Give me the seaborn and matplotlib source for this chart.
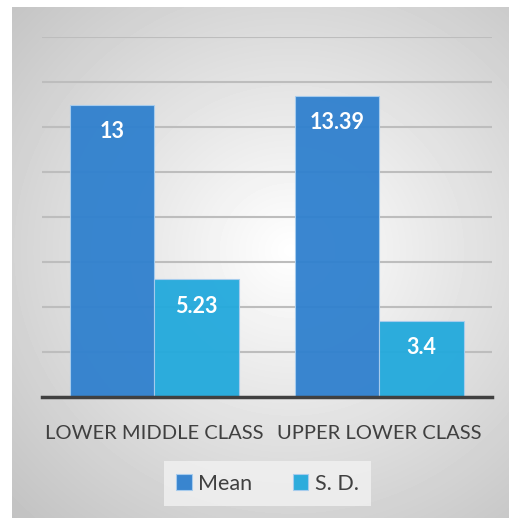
import numpy as np
import pandas as pd
import matplotlib
matplotlib.use('Agg')
import matplotlib.pyplot as plt
import seaborn as sns

# data
classes = ['LOWER MIDDLE CLASS', 'UPPER LOWER CLASS']
stats = ['Mean', 'S. D.']
mean_vals = [13, 13.39]
sd_vals = [5.23, 3.4]
colors = ['#2F80CE', '#22A9DC']

df = pd.DataFrame({
    'cls': classes * 2,
    'stat': [stats[0]] * 2 + [stats[1]] * 2,
    'value': mean_vals + sd_vals,
})

sns.set_style('white')
plt.rcParams['font.family'] = ['Lato', 'DejaVu Sans']

W, H = 510, 518
fig = plt.figure(figsize=(W / 100, H / 100), dpi=100)
fig.patch.set_facecolor('white')

# gray radial background of the chart area
bg = fig.add_axes([12 / W, 0, (W - 12) / W, (H - 7) / H], zorder=-10)
yy, xx = np.mgrid[7:H, 12:W]
r = np.hypot(xx - 290, (yy - 250) * 1.05)
shade = 1 - 0.24 * (r / r.max()) ** 1.0
bg.imshow(shade, cmap='gray', vmin=0, vmax=1, aspect='auto',
          extent=[0, 1, 0, 1], interpolation='bilinear')
bg.axis('off')

ax = fig.add_axes([42 / W, (H - 397) / H, 450 / W, 360 / H])
ax.patch.set_alpha(0)

sns.barplot(data=df, x='cls', y='value', hue='stat', palette=colors,
            saturation=1, width=0.75, ax=ax, alpha=0.95,
            edgecolor='#a8cdee', linewidth=0.8, errorbar=None, zorder=2)

ax.set_ylim(0, 16)
ax.set_xlim(-0.5, 1.5)
ax.set_yticks(np.arange(2, 17, 2))
ax.yaxis.grid(True, color='#bdbdbd', linewidth=1.5, zorder=1)
ax.set_axisbelow(True)
ax.set_yticklabels([])
ax.set_xlabel('')
ax.set_ylabel('')
for s in ['left', 'right', 'top']:
    ax.spines[s].set_visible(False)
ax.spines['bottom'].set_color('#404040')
ax.spines['bottom'].set_linewidth(2.5)
ax.spines['bottom'].set_zorder(5)
ax.tick_params(axis='x', length=0, pad=20, labelsize=14.5, labelcolor='#404040')
ax.tick_params(axis='y', length=0)

for cont in ax.containers:
    for bar in cont:
        h = bar.get_height()
        ax.annotate(f'{h:g}', (bar.get_x() + bar.get_width() / 2, h),
                    xytext=(0, -19.5), textcoords='offset points',
                    ha='center', va='center', color='white',
                    fontsize=15.5, fontweight='bold', zorder=6)

handles, labels = ax.get_legend_handles_labels()
ax.legend_.remove()
leg = fig.legend(handles, labels, loc='center',
                 bbox_to_anchor=(267.5 / W, 1 - 483.5 / H), ncol=2,
                 frameon=True, facecolor='#f2f2f2', edgecolor='none',
                 framealpha=0.8, fancybox=False, fontsize=15.5,
                 handlelength=0.7, handleheight=0.7, handletextpad=0.3,
                 columnspacing=1.9, borderpad=0.6, labelcolor='#404040')

fig.savefig('out.png', dpi=100)
